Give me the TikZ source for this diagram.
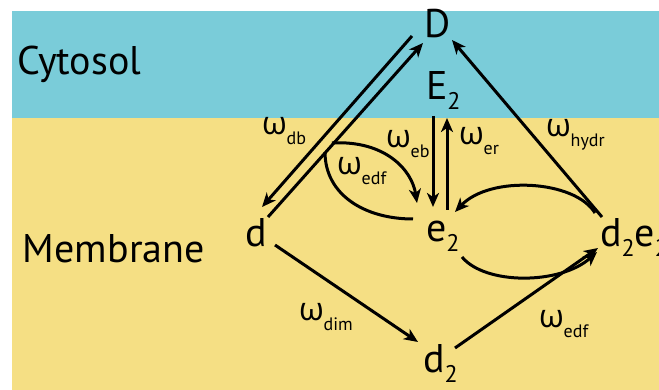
\documentclass[tikz,border=0pt]{standalone}
\usepackage{fontspec}
\setmainfont{PT Sans}
\newfontfamily\grk{Open Sans}
\usetikzlibrary{arrows.meta}
\definecolor{cyto}{RGB}{122,204,217}
\definecolor{memb}{RGB}{245,223,132}
\newcommand\lsub[1]{\raisebox{-10pt}{\fontsize{24}{24}\selectfont #1}}
\newcommand\wlab[1]{{\grk\fontsize{32}{32}\selectfont ω}\raisebox{-10pt}{\fontsize{18}{18}\selectfont #1}}
\begin{document}
\begin{tikzpicture}[x=1pt,y=-1pt,
  txt/.style={anchor=base west,inner sep=0pt,outer sep=0pt,font=\fontsize{40}{40}\selectfont},
  lab/.style={anchor=base west,inner sep=0pt,outer sep=0pt},
  arr/.style={line width=3pt,-{Stealth[length=14pt,width=12pt,inset=4pt]}},
  ln/.style={line width=3pt}]
\useasboundingbox (0,0) rectangle (659,390);
\fill[white] (0,0) rectangle (659,390);
\fill[cyto] (12,11) rectangle (659,118);
\fill[memb] (12,118) rectangle (659,390);

% region labels
\node[txt] (cyt) at (17,75) {Cytosol};
\node[txt] (mem) at (23,262) {Membrane};

% species
\node[txt] (D) at (424,38) {D};
\node[txt] (E2) at (426,100) {E\lsub{2}};
\node[txt] (e2) at (426,242) {e\lsub{2}};
\node[txt] (d) at (245,247) {d};
\node[txt] (d2) at (423,372) {d\lsub{2}};
\node[txt] (d2e2) at (600,247) {d\lsub{2}e\lsub{2}};

% connector end points
\coordinate (Dd1) at (412,36);
\coordinate (dD1) at (262,207);
\coordinate (dD2) at (268,217);
\coordinate (Dd2) at (423,43);
\coordinate (xD1) at (602,217);
\coordinate (xD2) at (452,40);
\coordinate (Ee1) at (433,116);
\coordinate (Ee2) at (433,207);
\coordinate (eE1) at (447,210);
\coordinate (eE2) at (447,118);
\coordinate (fa1) at (332,143);
\coordinate (fa2) at (417,203);
\coordinate (fb1) at (325,152);
\coordinate (fb2) at (413,219);
\coordinate (xe1) at (595,213);
\coordinate (xe2) at (455,212);
\coordinate (ex1) at (462,257);
\coordinate (ex2) at (597,252);
\coordinate (dd1) at (275,245);
\coordinate (dd2) at (418,342);
\coordinate (dx1) at (455,348);
\coordinate (dx2) at (598,248);

% connectors
\draw[arr] (Dd1) -- (dD1);
\draw[arr] (dD2) -- (Dd2);
\draw[arr] (xD1) -- (xD2);
\draw[arr] (Ee1) -- (Ee2);
\draw[arr] (eE1) -- (eE2);
\draw[arr] (fa1) .. controls (385,140) and (412,170) .. (fa2);
\draw[ln] (fb1) .. controls (325,195) and (365,219) .. (fb2);
\draw[arr] (xe1) .. controls (575,180) and (490,175) .. (xe2);
\draw[arr] (ex1) .. controls (485,285) and (560,285) .. (ex2);
\draw[arr] (dd1) -- (dd2);
\draw[arr] (dx1) -- (dx2);

% rate labels
\node[lab] (wdb) at (262,135) {\wlab{db}};
\node[lab] (wedf) at (337,175) {\wlab{edf}};
\node[lab] (web) at (386,148) {\wlab{eb}};
\node[lab] (wer) at (459,145) {\wlab{er}};
\node[lab] (whydr) at (546,137) {\wlab{hydr}};
\node[lab] (wdim) at (299,320) {\wlab{dim}};
\node[lab] (wedf2) at (539,327) {\wlab{edf}};
\end{tikzpicture}
\end{document}
